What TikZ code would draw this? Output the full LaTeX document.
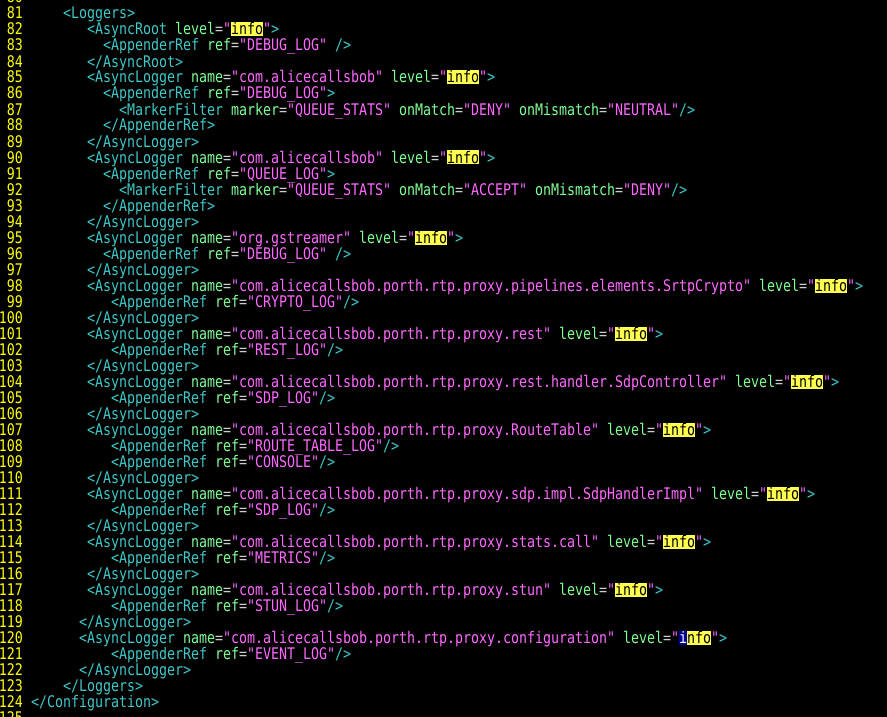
\documentclass[tikz,border=0pt]{standalone}
\usepackage{fontspec}
\usepackage{xcolor}
\newfontfamily\codefont{DejaVu Sans Mono}[FakeStretch=0.8306]

\definecolor{lnyellow}{RGB}{255,255,0}
\definecolor{tagcyan}{RGB}{64,200,200}
\definecolor{attrgreen}{RGB}{128,255,150}
\definecolor{valpink}{RGB}{255,105,255}
\definecolor{eqgray}{RGB}{205,205,205}
\definecolor{hlyellow}{RGB}{255,255,80}
\definecolor{curblue}{RGB}{0,0,160}

% syntax colouring
\newcommand\xtag[1]{\textcolor{tagcyan}{#1}}
\newcommand\xattr[1]{\textcolor{attrgreen}{#1}\textcolor{eqgray}{=}}
\newcommand\xval[1]{\textcolor{valpink}{#1}}
\newcommand\xstrut{\vrule height 12.5pt depth 1.5pt width 0pt}
\newcommand\xinfo{{\setlength\fboxsep{0pt}\colorbox{hlyellow}{\xstrut\color{black}info}}}
\newcommand\xcursorinfo{{\setlength\fboxsep{0pt}\colorbox{curblue}{\xstrut\color{white}i}\colorbox{hlyellow}{\xstrut\color{black}nfo}}}
\newcommand\xlevel{\xattr{level}\xval{"}\xinfo\xval{"}\xtag{>}}

\begin{document}
\begin{tikzpicture}[x=1pt,y=-1pt,font=\codefont\fontsize{16pt}{16pt}\selectfont]
  %----- styles
  \tikzset{
    lnum/.style ={anchor=base east,inner sep=0pt,outer sep=0pt,text=lnyellow},
    code/.style ={anchor=base west,inner sep=0pt,outer sep=0pt}
  }
  \def\yb{19}  % baseline of line 81
  % one editor line: number, column, text
  \newcommand\codeline[3]{%
    \node[lnum] (n#1) at (23,{\yb+16*(#1-81)}) {#1};
    \node[code] (l#1) at ({8*#2-1},{\yb+16*(#1-81)}) {#3};}

  %----- background
  \fill[black] (0,0) rectangle (887,717);
  \clip (0,0) rectangle (887,717);
  \useasboundingbox (0,0) rectangle (887,717);

  %----- lines
  \node[lnum] (n80) at (23,3) {80};
  \codeline{81}{8}{\xtag{<Loggers>}}
  \codeline{82}{11}{\xtag{<AsyncRoot} \xlevel}
  \codeline{83}{13}{\xtag{<AppenderRef} \xattr{ref}\xval{"DEBUG\_LOG"} \xtag{/>}}
  \codeline{84}{11}{\xtag{</AsyncRoot>}}
  \codeline{85}{11}{\xtag{<AsyncLogger} \xattr{name}\xval{"com.alicecallsbob"} \xlevel}
  \codeline{86}{13}{\xtag{<AppenderRef} \xattr{ref}\xval{"DEBUG\_LOG"}\xtag{>}}
  \codeline{87}{15}{\xtag{<MarkerFilter} \xattr{marker}\xval{"QUEUE\_STATS"} \xattr{onMatch}\xval{"DENY"} \xattr{onMismatch}\xval{"NEUTRAL"}\xtag{/>}}
  \codeline{88}{13}{\xtag{</AppenderRef>}}
  \codeline{89}{11}{\xtag{</AsyncLogger>}}
  \codeline{90}{11}{\xtag{<AsyncLogger} \xattr{name}\xval{"com.alicecallsbob"} \xlevel}
  \codeline{91}{13}{\xtag{<AppenderRef} \xattr{ref}\xval{"QUEUE\_LOG"}\xtag{>}}
  \codeline{92}{15}{\xtag{<MarkerFilter} \xattr{marker}\xval{"QUEUE\_STATS"} \xattr{onMatch}\xval{"ACCEPT"} \xattr{onMismatch}\xval{"DENY"}\xtag{/>}}
  \codeline{93}{13}{\xtag{</AppenderRef>}}
  \codeline{94}{11}{\xtag{</AsyncLogger>}}
  \codeline{95}{11}{\xtag{<AsyncLogger} \xattr{name}\xval{"org.gstreamer"} \xlevel}
  \codeline{96}{13}{\xtag{<AppenderRef} \xattr{ref}\xval{"DEBUG\_LOG"} \xtag{/>}}
  \codeline{97}{11}{\xtag{</AsyncLogger>}}
  \codeline{98}{11}{\xtag{<AsyncLogger} \xattr{name}\xval{"com.alicecallsbob.porth.rtp.proxy.pipelines.elements.SrtpCrypto"} \xlevel}
  \codeline{99}{14}{\xtag{<AppenderRef} \xattr{ref}\xval{"CRYPTO\_LOG"}\xtag{/>}}
  \codeline{100}{11}{\xtag{</AsyncLogger>}}
  \codeline{101}{11}{\xtag{<AsyncLogger} \xattr{name}\xval{"com.alicecallsbob.porth.rtp.proxy.rest"} \xlevel}
  \codeline{102}{14}{\xtag{<AppenderRef} \xattr{ref}\xval{"REST\_LOG"}\xtag{/>}}
  \codeline{103}{11}{\xtag{</AsyncLogger>}}
  \codeline{104}{11}{\xtag{<AsyncLogger} \xattr{name}\xval{"com.alicecallsbob.porth.rtp.proxy.rest.handler.SdpController"} \xlevel}
  \codeline{105}{14}{\xtag{<AppenderRef} \xattr{ref}\xval{"SDP\_LOG"}\xtag{/>}}
  \codeline{106}{11}{\xtag{</AsyncLogger>}}
  \codeline{107}{11}{\xtag{<AsyncLogger} \xattr{name}\xval{"com.alicecallsbob.porth.rtp.proxy.RouteTable"} \xlevel}
  \codeline{108}{14}{\xtag{<AppenderRef} \xattr{ref}\xval{"ROUTE\_TABLE\_LOG"}\xtag{/>}}
  \codeline{109}{14}{\xtag{<AppenderRef} \xattr{ref}\xval{"CONSOLE"}\xtag{/>}}
  \codeline{110}{11}{\xtag{</AsyncLogger>}}
  \codeline{111}{11}{\xtag{<AsyncLogger} \xattr{name}\xval{"com.alicecallsbob.porth.rtp.proxy.sdp.impl.SdpHandlerImpl"} \xlevel}
  \codeline{112}{14}{\xtag{<AppenderRef} \xattr{ref}\xval{"SDP\_LOG"}\xtag{/>}}
  \codeline{113}{11}{\xtag{</AsyncLogger>}}
  \codeline{114}{11}{\xtag{<AsyncLogger} \xattr{name}\xval{"com.alicecallsbob.porth.rtp.proxy.stats.call"} \xlevel}
  \codeline{115}{14}{\xtag{<AppenderRef} \xattr{ref}\xval{"METRICS"}\xtag{/>}}
  \codeline{116}{11}{\xtag{</AsyncLogger>}}
  \codeline{117}{11}{\xtag{<AsyncLogger} \xattr{name}\xval{"com.alicecallsbob.porth.rtp.proxy.stun"} \xlevel}
  \codeline{118}{14}{\xtag{<AppenderRef} \xattr{ref}\xval{"STUN\_LOG"}\xtag{/>}}
  \codeline{119}{10}{\xtag{</AsyncLogger>}}
  \codeline{120}{10}{\xtag{<AsyncLogger} \xattr{name}\xval{"com.alicecallsbob.porth.rtp.proxy.configuration"} \xattr{level}\xval{"}\xcursorinfo\xval{"}\xtag{>}}
  \codeline{121}{14}{\xtag{<AppenderRef} \xattr{ref}\xval{"EVENT\_LOG"}\xtag{/>}}
  \codeline{122}{10}{\xtag{</AsyncLogger>}}
  \codeline{123}{8}{\xtag{</Loggers>}}
  \codeline{124}{4}{\xtag{</Configuration>}}
  \node[lnum] (n125) at (23,723) {125};
\end{tikzpicture}
\end{document}
